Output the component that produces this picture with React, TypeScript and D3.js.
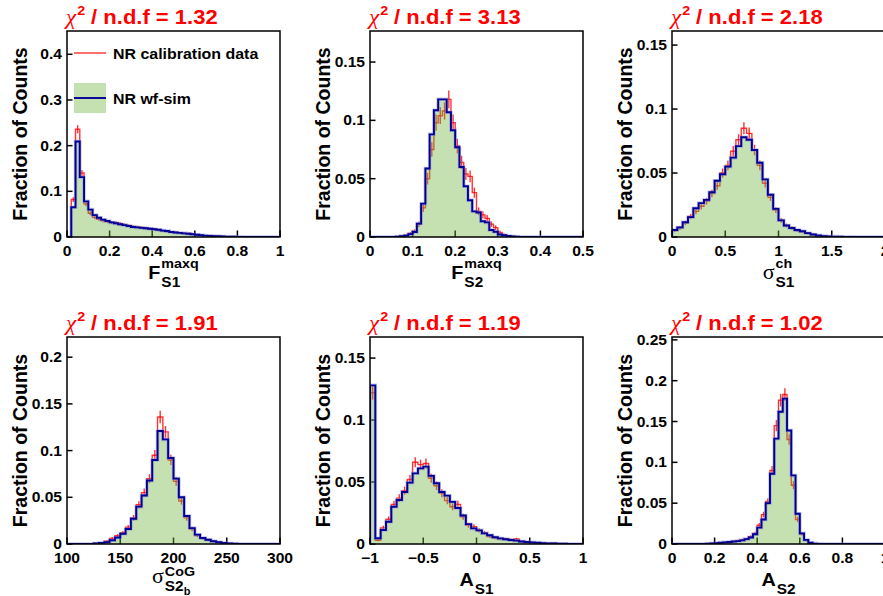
import React from 'react';
import * as d3 from 'd3';

// ---- data: fraction of counts per bin ----

// F_S1^maxq, bins of 0.02 from 0 to 1
const fs1Sim = [
  0, 0.065, 0.209, 0.131, 0.078, 0.06, 0.048, 0.042, 0.038, 0.035,
  0.032, 0.030, 0.028, 0.026, 0.024, 0.022, 0.021, 0.020, 0.019, 0.018,
  0.017, 0.016, 0.014, 0.013, 0.011, 0.010, 0.009, 0.008, 0.007, 0.006,
  0.005, 0.004, 0.003, 0.0025, 0.002, 0.0015, 0.001, 0.0008, 0.0006, 0.0004,
  0.0003, 0.0002, 0.0001, 0.0001, 0.0001, 0, 0, 0, 0, 0,
];
const fs1Data = [
  0, 0.082, 0.236, 0.140, 0.072, 0.052, 0.043, 0.039, 0.036, 0.034,
  0.032, 0.031, 0.029, 0.027, 0.025, 0.023, 0.022, 0.021, 0.019, 0.018,
  0.017, 0.015, 0.014, 0.012, 0.011, 0.010, 0.009, 0.008, 0.0075, 0.006,
  0.005, 0.004, 0.003, 0.0025, 0.0018, 0.0014, 0.001, 0.0007, 0.0005, 0.0004,
  0.0003, 0.0002, 0.0001, 0.0001, 0, 0, 0, 0, 0, 0,
];

// F_S2^maxq, bins of 0.01 from 0 to 0.5
const fs2Sim = [
  0, 0, 0, 0, 0, 0, 0.0003, 0.0006, 0.0012, 0.0025,
  0.0043, 0.0115, 0.0286, 0.0587, 0.088, 0.1086, 0.118, 0.118, 0.107, 0.0915,
  0.077, 0.060, 0.0435, 0.0315, 0.022, 0.021, 0.0135, 0.0125, 0.006, 0.0045,
  0.0022, 0.0015, 0.0008, 0.0004, 0.0002, 0, 0, 0, 0, 0,
  0, 0, 0, 0, 0, 0, 0, 0, 0, 0,
];
const fs2Data = [
  0, 0, 0, 0, 0, 0, 0.0004, 0.0008, 0.0015, 0.003,
  0.005, 0.011, 0.025, 0.050, 0.075, 0.098, 0.104, 0.108, 0.118, 0.098,
  0.078, 0.064, 0.054, 0.052, 0.038, 0.022, 0.019, 0.016, 0.011, 0.008,
  0.004, 0.002, 0.001, 0.0005, 0.0002, 0, 0, 0, 0, 0,
  0, 0, 0, 0, 0, 0, 0, 0, 0, 0,
];

// sigma_S1^ch, bins of 0.05 from 0 to 2
const sigS1Sim = [
  0.0055, 0.0075, 0.0115, 0.0155, 0.0225, 0.0265, 0.029, 0.035, 0.044, 0.049,
  0.055, 0.062, 0.071, 0.078, 0.076, 0.068, 0.058, 0.045, 0.033, 0.022,
  0.013, 0.009, 0.007, 0.0055, 0.0045, 0.003, 0.002, 0.0012, 0.0007, 0.0004,
  0.0003, 0.0002, 0.0001, 0.0001, 0, 0, 0, 0, 0, 0,
];
const sigS1Data = [
  0.005, 0.007, 0.011, 0.016, 0.020, 0.024, 0.028, 0.034, 0.040, 0.050,
  0.056, 0.067, 0.076, 0.085, 0.081, 0.068, 0.056, 0.042, 0.031, 0.021,
  0.013, 0.009, 0.007, 0.005, 0.004, 0.003, 0.002, 0.001, 0.0006, 0.0004,
  0.0002, 0.0001, 0.0001, 0, 0, 0, 0, 0, 0, 0,
];

// sigma_S2b^CoG, bins of 5 from 100 to 300
const sigS2Sim = [
  0, 0, 0, 0, 0, 0.0005, 0.0012, 0.002, 0.004, 0.007,
  0.011, 0.016, 0.027, 0.040, 0.052, 0.068, 0.090, 0.121, 0.112, 0.092,
  0.070, 0.050, 0.030, 0.017, 0.010, 0.0065, 0.0045, 0.003, 0.002, 0.001,
  0.0005, 0.0002, 0, 0, 0, 0, 0, 0, 0, 0,
];
const sigS2Data = [
  0, 0, 0, 0, 0, 0.0008, 0.0015, 0.003, 0.006, 0.009,
  0.012, 0.018, 0.028, 0.042, 0.055, 0.070, 0.095, 0.136, 0.120, 0.090,
  0.067, 0.046, 0.028, 0.016, 0.009, 0.006, 0.0045, 0.003, 0.0018, 0.001,
  0.0005, 0.0002, 0, 0, 0, 0, 0, 0, 0, 0,
];

// A_S1, bins of 0.05 from -1 to 1
const aS1Sim = [
  0.128, 0.0046, 0.0113, 0.018, 0.030, 0.0355, 0.042, 0.0495, 0.057, 0.061,
  0.0624, 0.055, 0.049, 0.042, 0.039, 0.034, 0.029, 0.023, 0.016, 0.0126,
  0.011, 0.0086, 0.007, 0.0054, 0.0045, 0.0038, 0.0032, 0.0027, 0.002, 0.0016,
  0.0013, 0.001, 0.0007, 0.0005, 0.0004, 0.0003, 0.0002, 0.0001, 0.0001, 0.0001,
];
const aS1Data = [
  0.122, 0.003, 0.013, 0.020, 0.032, 0.037, 0.043, 0.052, 0.066, 0.064,
  0.065, 0.053, 0.047, 0.041, 0.035, 0.030, 0.032, 0.022, 0.015, 0.014,
  0.011, 0.009, 0.006, 0.005, 0.004, 0.004, 0.0035, 0.004, 0.002, 0.0015,
  0.0012, 0.0008, 0.0006, 0.0005, 0.0006, 0.0003, 0.0002, 0.0001, 0.0001, 0,
];

// A_S2, bins of 0.02 from 0 to 1
const aS2Sim = [
  0, 0, 0, 0, 0, 0, 0, 0, 0.0003, 0.0006,
  0.001, 0.0015, 0.002, 0.0025, 0.003, 0.0035, 0.0045, 0.006, 0.008, 0.012,
  0.020, 0.030, 0.050, 0.086, 0.129, 0.162, 0.178, 0.139, 0.084, 0.037,
  0.013, 0.005, 0.0015, 0.0005, 0.0002, 0, 0, 0, 0, 0,
  0, 0, 0, 0, 0, 0, 0, 0, 0, 0,
];
const aS2Data = [
  0, 0, 0, 0, 0, 0, 0, 0, 0.0002, 0.0008,
  0.001, 0.0012, 0.002, 0.0025, 0.003, 0.004, 0.005, 0.006, 0.009, 0.013,
  0.023, 0.036, 0.052, 0.090, 0.145, 0.176, 0.183, 0.128, 0.072, 0.030,
  0.012, 0.0045, 0.0012, 0.0004, 0.0001, 0, 0, 0, 0, 0,
  0, 0, 0, 0, 0, 0, 0, 0, 0, 0,
];

// chi2 / ndf per panel
const chi2 = ['1.32', '3.13', '2.18', '1.91', '1.19', '1.02'];

// axis ticks
const xTicks = [
  [0, 0.2, 0.4, 0.6, 0.8, 1],
  [0, 0.1, 0.2, 0.3, 0.4, 0.5],
  [0, 0.5, 1, 1.5, 2],
  [100, 150, 200, 250, 300],
  [-1, -0.5, 0, 0.5, 1],
  [0, 0.2, 0.4, 0.6, 0.8, 1],
];
const yTicks = [
  [0, 0.1, 0.2, 0.3, 0.4],
  [0, 0.05, 0.1, 0.15],
  [0, 0.05, 0.1, 0.15],
  [0, 0.05, 0.1, 0.15, 0.2],
  [0, 0.05, 0.1, 0.15],
  [0, 0.05, 0.1, 0.15, 0.2, 0.25],
];

const legendLabels = ['NR calibration data', 'NR wf-sim'];

// ---- style ----
const SANS = '"Liberation Sans", Arial, sans-serif';
const SERIF = '"Liberation Serif", "Times New Roman", serif';
const SX = 1.1;
const RED = '#ff0000';
const BLUE = '#000096';
const FILL = 'rgba(110,180,60,0.4)';

const ctx = document.createElement('canvas').getContext('2d') as CanvasRenderingContext2D;
function tw(s: string, size: number, family = SANS, weight = 'bold', style = 'normal') {
  ctx.font = `${style} ${weight} ${size}px ${family}`;
  return ctx.measureText(s).width * SX;
}

const fmt = (t: number) => String(+t.toFixed(3)).replace('-', '\u2212');

type Label = { main: string; serif: boolean; sup?: string; sub: string; subsub?: string };

const panels = [
  { sim: fs1Sim, data: fs1Data, lo: 0, bw: 0.02, dom: [0, 1], yMax: 0.451, nEvt: 3000,
    label: { main: 'F', serif: false, sup: 'maxq', sub: 'S1' } as Label },
  { sim: fs2Sim, data: fs2Data, lo: 0, bw: 0.01, dom: [0, 0.5], yMax: 0.1766, nEvt: 2000,
    label: { main: 'F', serif: false, sup: 'maxq', sub: 'S2' } as Label },
  { sim: sigS1Sim, data: sigS1Data, lo: 0, bw: 0.05, dom: [0, 2], yMax: 0.161, nEvt: 4000,
    label: { main: '\u03c3', serif: true, sup: 'ch', sub: 'S1' } as Label },
  { sim: sigS2Sim, data: sigS2Data, lo: 100, bw: 5, dom: [100, 300], yMax: 0.2216, nEvt: 3000,
    label: { main: '\u03c3', serif: true, sup: 'CoG', sub: 'S2', subsub: 'b' } as Label },
  { sim: aS1Sim, data: aS1Data, lo: -1, bw: 0.05, dom: [-1, 1], yMax: 0.167, nEvt: 4000,
    label: { main: 'A', serif: false, sub: 'S1' } as Label },
  { sim: aS2Sim, data: aS2Data, lo: 0, bw: 0.02, dom: [0, 1], yMax: 0.2535, nEvt: 3000,
    label: { main: 'A', serif: false, sub: 'S2' } as Label },
];

const colLeft = [67, 370, 672];
const rows = [[31, 237], [337, 544]];
const W = 213;

function T({ x, y, size, anchor = 'start', fill = 'black', family = SANS, weight = 'bold', italic = false, children }: any) {
  return (
    <text transform={`translate(${x},${y}) scale(${SX},1)`} fontSize={size} fontFamily={family}
      fontWeight={weight} fontStyle={italic ? 'italic' : 'normal'} textAnchor={anchor} fill={fill}>{children}</text>
  );
}

function XTitle({ cx, base, label }: { cx: number; base: number; label: Label }) {
  const mainSize = label.serif ? 20 : 18;
  const mainFam = label.serif ? SERIF : SANS;
  const mainW = tw(label.main, mainSize, mainFam, label.serif ? 'normal' : 'bold');
  const supW = label.sup ? tw(label.sup, 13) : 0;
  const subW = tw(label.sub, 14) + (label.subsub ? tw(label.subsub, 10) : 0);
  const total = mainW + 1 + Math.max(supW, subW);
  const x0 = cx - total / 2;
  const b = label.subsub ? base - 3 : base;
  const supUp = label.subsub ? 7 : 11;
  return (
    <g>
      <T x={x0} y={b} size={mainSize} family={mainFam} weight={label.serif ? 'normal' : 'bold'}>{label.main}</T>
      {label.sup && <T x={x0 + mainW + 1} y={b - supUp} size={13}>{label.sup}</T>}
      <T x={x0 + mainW + 1} y={b + 8} size={14}>{label.sub}</T>
      {label.subsub && <T x={x0 + mainW + 1 + tw(label.sub, 14)} y={b + 12} size={10}>{label.subsub}</T>}
    </g>
  );
}

function Title({ x, base, value }: { x: number; base: number; value: string }) {
  const chiW = tw('\u03c7', 21, SERIF, 'normal', 'italic');
  const twoW = tw('2', 13);
  return (
    <g>
      <T x={x} y={base} size={21} family={SERIF} weight="normal" italic fill={RED}>{'\u03c7'}</T>
      <T x={x + chiW + 1} y={base - 9} size={13} fill={RED}>2</T>
      <T x={x + chiW + twoW + 7} y={base} size={20} fill={RED}>{`/ n.d.f = ${value}`}</T>
    </g>
  );
}

function Panel({ idx }: { idx: number }) {
  const p = panels[idx];
  const x0 = colLeft[idx % 3];
  const [top, bottom] = rows[Math.floor(idx / 3)];
  const x = d3.scaleLinear().domain(p.dom).range([x0, x0 + W]);
  const y = d3.scaleLinear().domain([0, p.yMax]).range([bottom, top]);
  const hi = p.lo + p.sim.length * p.bw;

  const outline = (vals: number[]): [number, number][] => [
    [p.lo, 0],
    ...vals.map((v, i) => [p.lo + i * p.bw, v] as [number, number]),
    [hi, vals[vals.length - 1]],
    [hi, 0],
  ];
  const line = d3.line<[number, number]>().x((d) => x(d[0])).y((d) => y(d[1])).curve(d3.curveStepAfter);
  const area = d3.area<[number, number]>().x((d) => x(d[0])).y0(bottom).y1((d) => y(d[1])).curve(d3.curveStepAfter);
  const simPts = outline(p.sim);

  const clipId = `clip${idx}`;
  return (
    <g>
      <defs>
        <clipPath id={clipId}>
          <rect x={x0} y={top} width={W} height={bottom - top} />
        </clipPath>
      </defs>

      {/* ticks (inside the frame) */}
      {xTicks[idx].map((t) => (
        <line key={`xt${t}`} x1={x(t)} x2={x(t)} y1={bottom} y2={bottom - 6.5} stroke="black" strokeWidth={1.5} />
      ))}
      {yTicks[idx].map((t) => (
        <line key={`yt${t}`} x1={x0} x2={x0 + 5.5} y1={y(t)} y2={y(t)} stroke="black" strokeWidth={1.5} />
      ))}

      <g clipPath={`url(#${clipId})`}>
        {/* data */}
        <path d={line(outline(p.data)) || ''} fill="none" stroke={RED} strokeOpacity={0.8} strokeWidth={1.4} />
        {p.data.map((v, i) => {
          if (v <= 0) return null;
          const e = Math.sqrt(v / p.nEvt);
          const cx = x(p.lo + (i + 0.5) * p.bw);
          return <line key={`e${i}`} x1={cx} x2={cx} y1={y(v - e)} y2={y(v + e)} stroke={RED} strokeOpacity={0.8} strokeWidth={1.4} />;
        })}
        {/* simulation */}
        <path d={area(simPts.slice(1, -1)) || ''} fill={FILL} stroke="none" />
        <path d={line(simPts) || ''} fill="none" stroke="#8c8ce0" strokeOpacity={0.5} strokeWidth={3.5} />
        <path d={line(simPts) || ''} fill="none" stroke={BLUE} strokeWidth={1.9} />
      </g>

      <rect x={x0} y={top} width={W} height={bottom - top} fill="none" stroke="black" strokeWidth={1.5} />

      {/* tick labels */}
      {xTicks[idx].map((t) => (
        <T key={`xl${t}`} x={x(t)} y={bottom + 19} size={14.2} anchor="middle">{fmt(t)}</T>
      ))}
      {yTicks[idx].map((t) => (
        <T key={`yl${t}`} x={x0 - 5} y={y(t) + 5} size={14.2} anchor="end">{fmt(t)}</T>
      ))}

      <text transform={`translate(${x0 - 40},${(top + bottom) / 2}) rotate(-90)`} textAnchor="middle"
        fontSize={19.5} fontFamily={SANS} fontWeight="bold">Fraction of Counts</text>

      <XTitle cx={x0 + W / 2} base={bottom + 42} label={p.label} />
      <Title x={x0 - 1} base={top - 7} value={chi2[idx]} />
    </g>
  );
}

function Legend() {
  return (
    <g>
      <line x1={74} x2={106} y1={53} y2={53} stroke={RED} strokeOpacity={0.8} strokeWidth={1.4} />
      <T x={113} y={59} size={14.5}>{legendLabels[0]}</T>
      <rect x={74} y={83} width={32} height={30} fill={FILL} />
      <line x1={74} x2={106} y1={98} y2={98} stroke={BLUE} strokeWidth={1.9} />
      <T x={113} y={104} size={14.5}>{legendLabels[1]}</T>
    </g>
  );
}

export default function App() {
  return (
    <div style={{ position: 'absolute', left: 0, top: 0 }}>
      <svg width={883} height={596} style={{ display: 'block', background: 'white' }}>
        {panels.map((_, i) => <Panel key={i} idx={i} />)}
        <Legend />
      </svg>
    </div>
  );
}
